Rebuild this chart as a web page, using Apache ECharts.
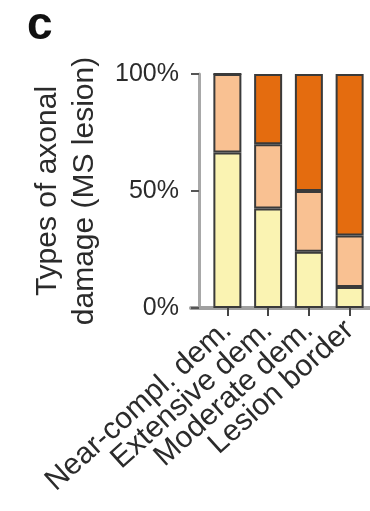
<!DOCTYPE html>
<html>
<head>
<meta charset="utf-8">
<script src="https://cdn.jsdelivr.net/npm/echarts@6/dist/echarts.min.js"></script>
<style>
  html, body { margin: 0; padding: 0; background: #fff; }
  #chart { width: 370px; height: 511px; }
</style>
</head>
<body>
<div id="chart"></div>
<script>
// categories along the x axis
var categories = ['Near-compl. dem.', 'Extensive dem.', 'Moderate dem.', 'Lesion border'];
// stacked shares (%) per category, bottom to top
var lowDamage = [66.5, 42.5, 24, 9];
var midDamage = [33.5, 27.5, 26, 22];
var highDamage = [0, 30, 50, 69];
var yTicks = [0, 50, 100];

var font = 'Liberation Sans, Arial, Helvetica, sans-serif';
var textColor = '#2b2b2b';
var border = { borderColor: '#3a3a3a', borderWidth: 2 };

var chart = echarts.init(document.getElementById('chart'), null, { renderer: 'canvas' });

function seg(name, color, data) {
  return {
    name: name,
    type: 'bar',
    stack: 'all',
    barWidth: 28,
    data: data,
    itemStyle: Object.assign({ color: color }, border),
    animation: false
  };
}

var options = {
  animation: false,
  title: {
    text: 'c',
    left: 22,
    top: -2,
    textStyle: { fontFamily: font, fontWeight: 'bold', fontSize: 46, color: '#111' }
  },
  grid: [
    { left: 207, top: 74, width: 169.3, height: 234 },
    // only carries the long base line that starts left of the y axis
    { left: 191, top: 74, width: 185, height: 234 }
  ],
  xAxis: [{
    type: 'category',
    data: categories,
    axisLine: { show: false },
    axisTick: { show: true, alignWithLabel: true, length: 8, lineStyle: { color: '#444', width: 2 } },
    axisLabel: {
      rotate: 42,
      margin: 18,
      fontFamily: font,
      fontSize: 30,
      color: textColor,
      interval: 0
    }
  }, {
    type: 'value',
    gridIndex: 1,
    axisLine: { show: true, onZero: false, lineStyle: { color: '#a0a0a0', width: 4 } },
    axisTick: { show: false },
    axisLabel: { show: false },
    splitLine: { show: false }
  }],
  yAxis: [{
    type: 'value',
    min: yTicks[0],
    max: yTicks[yTicks.length - 1],
    interval: yTicks[1] - yTicks[0],
    offset: 8,
    name: 'Types of axonal\ndamage (MS lesion)',
    nameLocation: 'middle',
    nameRotate: 90,
    nameGap: 96,
    nameTextStyle: { fontFamily: font, fontSize: 30, lineHeight: 37, color: textColor },
    axisLine: { show: true, lineStyle: { color: '#a8a8a8', width: 3 } },
    axisTick: { show: true, length: 8, lineStyle: { color: '#555', width: 2 } },
    splitLine: { show: false },
    axisLabel: {
      formatter: '{value}%',
      margin: 20,
      fontFamily: font,
      fontSize: 25,
      color: textColor
    }
  }, {
    type: 'value',
    gridIndex: 1,
    show: false
  }],
  series: [
    seg('low', '#faf3b2', lowDamage),
    seg('mid', '#f9c192', midDamage),
    seg('high', '#e46c0f', highDamage)
  ]
};

chart.setOption(options);
</script>
</body>
</html>
